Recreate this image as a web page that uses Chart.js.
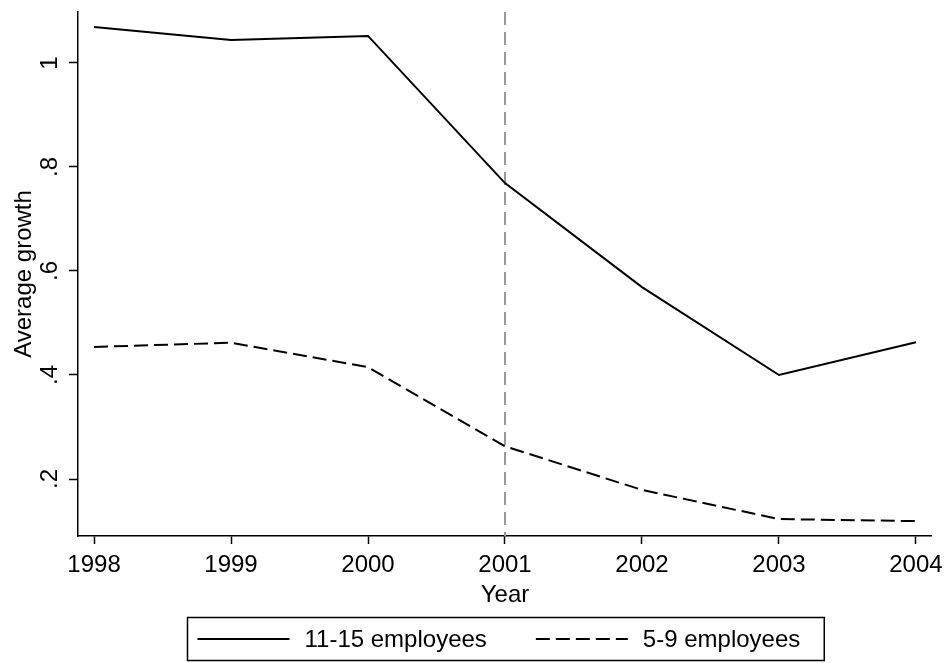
<!DOCTYPE html>
<html>
<head>
<meta charset="utf-8">
<script src="https://cdn.jsdelivr.net/npm/chart.js@4/dist/chart.umd.min.js"></script>
<style>
  html, body { margin: 0; padding: 0; background: #fff; }
  #wrap { width: 950px; height: 663px; position: relative; }
</style>
</head>
<body>
<div id="wrap"><canvas id="growth"></canvas></div>
<script>
// Years on the horizontal axis
const years = [1998, 1999, 2000, 2001, 2002, 2003, 2004];

// Average growth by firm size class
const firms11to15 = [1.069, 1.044, 1.052, 0.769, 0.569, 0.400, 0.463];
const firms5to9   = [0.454, 0.462, 0.415, 0.263, 0.179, 0.123, 0.119];

// Vertical axis ticks and their printed labels
const yTickValues = [0.2, 0.4, 0.6, 0.8, 1.0];
const yTickLabels = ['.2', '.4', '.6', '.8', '1'];

// Reference year marked by a vertical line
const markerYear = 2001;

const seriesNames = ['11-15 employees', '5-9 employees'];

const FONT = '"Liberation Sans", Arial, sans-serif';
const FONT_SIZE = 24;

const toPoints = vals => vals.map((v, i) => ({ x: years[i], y: v }));

// Rotated y tick labels, the marker line and the boxed legend
const decorations = {
  id: 'decorations',
  beforeDatasetsDraw(chart) {
    const { ctx, chartArea, scales: { x } } = chart;
    const px = x.getPixelForValue(markerYear);
    ctx.save();
    ctx.strokeStyle = '#999999';
    ctx.lineWidth = 2;
    ctx.setLineDash([13, 7]);
    ctx.beginPath();
    ctx.moveTo(px, chartArea.top);
    ctx.lineTo(px, chartArea.bottom);
    ctx.stroke();
    ctx.restore();
  },
  afterDraw(chart) {
    const { ctx, chartArea, scales: { y } } = chart;
    ctx.save();
    ctx.fillStyle = '#000';
    ctx.font = FONT_SIZE + 'px ' + FONT;
    ctx.textAlign = 'center';
    ctx.textBaseline = 'alphabetic';
    yTickValues.forEach((v, i) => {
      const py = y.getPixelForValue(v);
      ctx.save();
      ctx.translate(chartArea.left - 21, py);
      ctx.rotate(-Math.PI / 2);
      ctx.fillText(yTickLabels[i], 0, 0);
      ctx.restore();
    });

    // Legend box below the axis title
    const ds = chart.data.datasets;
    const sample = 92, gapText = 15, gapItem = 49, padL = 10, padR = 24;
    const widths = ds.map(d => ctx.measureText(d.label).width);
    const boxW = padL + sample + gapText + widths[0] + gapItem + sample + gapText + widths[1] + padR;
    const cx = (chartArea.left + chartArea.right) / 2;
    const boxX = Math.round(cx - boxW / 2) + 0.5;
    const boxY = 617.5, boxH = 43;
    ctx.lineWidth = 1.5;
    ctx.strokeStyle = '#000';
    ctx.setLineDash([]);
    ctx.strokeRect(boxX, boxY, boxW, boxH);

    const midY = boxY + boxH / 2;
    let cursor = boxX + padL;
    ds.forEach((d, i) => {
      ctx.beginPath();
      ctx.lineWidth = d.borderWidth;
      ctx.strokeStyle = d.borderColor;
      ctx.setLineDash(d.borderDash || []);
      ctx.moveTo(cursor, midY);
      ctx.lineTo(cursor + sample, midY);
      ctx.stroke();
      ctx.setLineDash([]);
      cursor += sample + gapText;
      ctx.textAlign = 'left';
      ctx.textBaseline = 'middle';
      ctx.fillText(d.label, cursor, midY + 1);
      cursor += widths[i] + gapItem;
    });
    ctx.restore();
  }
};

new Chart(document.getElementById('growth'), {
  type: 'line',
  data: {
    datasets: [
      {
        label: seriesNames[0],
        data: toPoints(firms11to15),
        borderColor: '#000',
        borderWidth: 2,
        pointRadius: 0,
        tension: 0,
        fill: false
      },
      {
        label: seriesNames[1],
        data: toPoints(firms5to9),
        borderColor: '#000',
        borderWidth: 2,
        borderDash: [14, 6],
        pointRadius: 0,
        tension: 0,
        fill: false
      }
    ]
  },
  options: {
    responsive: true,
    maintainAspectRatio: false,
    animation: false,
    events: [],
    layout: { padding: { left: 0, top: 12, right: 18, bottom: 0 } },
    plugins: {
      legend: { display: false },
      tooltip: { enabled: false },
      title: { display: false }
    },
    scales: {
      x: {
        type: 'linear',
        min: 1997.883,
        max: 2004.117,
        afterFit: s => { s.height = 127; },
        afterBuildTicks: s => { s.ticks = years.map(v => ({ value: v })); },
        border: { display: true, color: '#000', width: 1.5 },
        grid: { drawOnChartArea: false, drawTicks: true, tickLength: 8, color: '#000', tickWidth: 1.5 },
        ticks: {
          autoSkip: false,
          maxRotation: 0,
          minRotation: 0,
          padding: 7,
          color: '#000',
          font: { family: FONT, size: FONT_SIZE },
          callback: v => String(v)
        },
        title: {
          display: true,
          text: 'Year',
          color: '#000',
          font: { family: FONT, size: FONT_SIZE },
          padding: { top: 0, bottom: 53 }
        }
      },
      y: {
        type: 'linear',
        min: 0.0904,
        max: 1.098,
        afterFit: s => { s.width = 78; },
        afterBuildTicks: s => { s.ticks = yTickValues.map(v => ({ value: v })); },
        border: { display: true, color: '#000', width: 1.5 },
        grid: { drawOnChartArea: false, drawTicks: true, tickLength: 9, color: '#000', tickWidth: 1.5 },
        ticks: { display: false },
        title: {
          display: true,
          text: 'Average growth',
          color: '#000',
          font: { family: FONT, size: FONT_SIZE },
          padding: { top: 10, bottom: 0 }
        }
      }
    }
  },
  plugins: [decorations]
});
</script>
</body>
</html>
